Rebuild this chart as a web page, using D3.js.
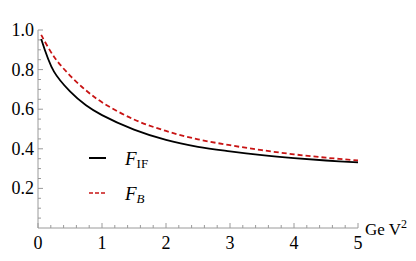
<!DOCTYPE html>
<html><head><meta charset="utf-8">
<script src="https://cdn.jsdelivr.net/npm/d3@7"></script>
<style>
body{margin:0;background:#fff}
svg text, svg tspan{font-family:"Liberation Serif","Times New Roman",serif !important}
</style>
</head><body>
<svg id="c" width="416" height="261"></svg>
<script>
const q2 = [0.05, 0.25, 0.5, 0.75, 1.0, 1.5, 2.0, 2.5, 3.0, 3.5, 4.0, 4.5, 5.0];
const fIF = [0.955, 0.79, 0.69, 0.62, 0.570, 0.497, 0.445, 0.410, 0.387, 0.368, 0.353, 0.341, 0.331];
const fB  = [0.975, 0.865, 0.77, 0.695, 0.635, 0.548, 0.490, 0.448, 0.418, 0.393, 0.372, 0.355, 0.341];
const xTicks = [0, 1, 2, 3, 4, 5];
const yTicks = [0.2, 0.4, 0.6, 0.8, 1.0];
const seriesNames = ["IF", "B"];

const FONT = "Times New Roman";
const svg = d3.select("#c");
const x = d3.scaleLinear().domain([0, 5]).range([38, 358]);
const y = d3.scaleLinear().domain([0, 1]).range([228, 30]);
const axisCol = "#9a9a9a";

svg.append("line").attr("x1", x(0)).attr("x2", x(5)).attr("y1", y(0)).attr("y2", y(0)).attr("stroke", axisCol);
svg.append("line").attr("x1", x(0)).attr("x2", x(0)).attr("y1", y(0)).attr("y2", y(1)).attr("stroke", axisCol);

const xMinor = d3.range(0, 5.001, 0.2);
svg.selectAll(".xm").data(xMinor).join("line")
  .attr("x1", d => x(d)).attr("x2", d => x(d))
  .attr("y1", y(0)).attr("y2", d => y(0) - (Math.abs(d - Math.round(d)) < 1e-6 ? 5 : 3))
  .attr("stroke", axisCol);
svg.selectAll(".xl").data(xTicks).join("text")
  .style("font-family", FONT)
  .attr("x", d => x(d)).attr("y", 249).attr("text-anchor", "middle")
  .attr("font-size", 18).text(d => d);

const yMinor = d3.range(0.05, 1.0001, 0.05);
svg.selectAll(".ym").data(yMinor).join("line")
  .attr("y1", d => y(d)).attr("y2", d => y(d))
  .attr("x1", x(0)).attr("x2", d => x(0) + (Math.abs(d * 5 - Math.round(d * 5)) < 1e-6 ? 5 : 3))
  .attr("stroke", axisCol);
svg.selectAll(".yl").data(yTicks).join("text")
  .style("font-family", FONT)
  .attr("x", 34).attr("y", d => y(d) + 6).attr("text-anchor", "end")
  .attr("font-size", 18).text(d => d.toFixed(1));

const lab = svg.append("text").style("font-family", FONT).attr("x", 365).attr("y", 235).attr("font-size", 17);
lab.append("tspan").text("Ge V");
lab.append("tspan").attr("dy", -7).attr("font-size", 12).text("2");

const line = d3.line().x(d => x(d[0])).y(d => y(d[1])).curve(d3.curveCatmullRom.alpha(0.5));
svg.append("path").datum(q2.map((v, i) => [v, fB[i]])).attr("d", line)
  .attr("fill", "none").attr("stroke", "#c81414").attr("stroke-width", 1.8).attr("stroke-dasharray", "5,3");
svg.append("path").datum(q2.map((v, i) => [v, fIF[i]])).attr("d", line)
  .attr("fill", "none").attr("stroke", "#000").attr("stroke-width", 1.8);

const leg = [{name: seriesNames[0], col: "#000", dash: null, yy: 158, italicSub: false},
             {name: seriesNames[1], col: "#c81414", dash: "4,2", yy: 193, italicSub: true}];
leg.forEach(l => {
  svg.append("line").attr("x1", 89).attr("x2", 106).attr("y1", l.yy).attr("y2", l.yy)
    .attr("stroke", l.col).attr("stroke-width", l.dash ? 1.3 : 2).attr("stroke-dasharray", l.dash);
  const t = svg.append("text").style("font-family", FONT).attr("x", 125).attr("y", l.yy + 7).attr("font-size", 19);
  t.append("tspan").attr("font-style", "italic").text("F");
  t.append("tspan").attr("dy", 3).attr("font-size", 13).attr("font-style", l.italicSub ? "italic" : "normal").text(l.name);
});
</script>
</body></html>
